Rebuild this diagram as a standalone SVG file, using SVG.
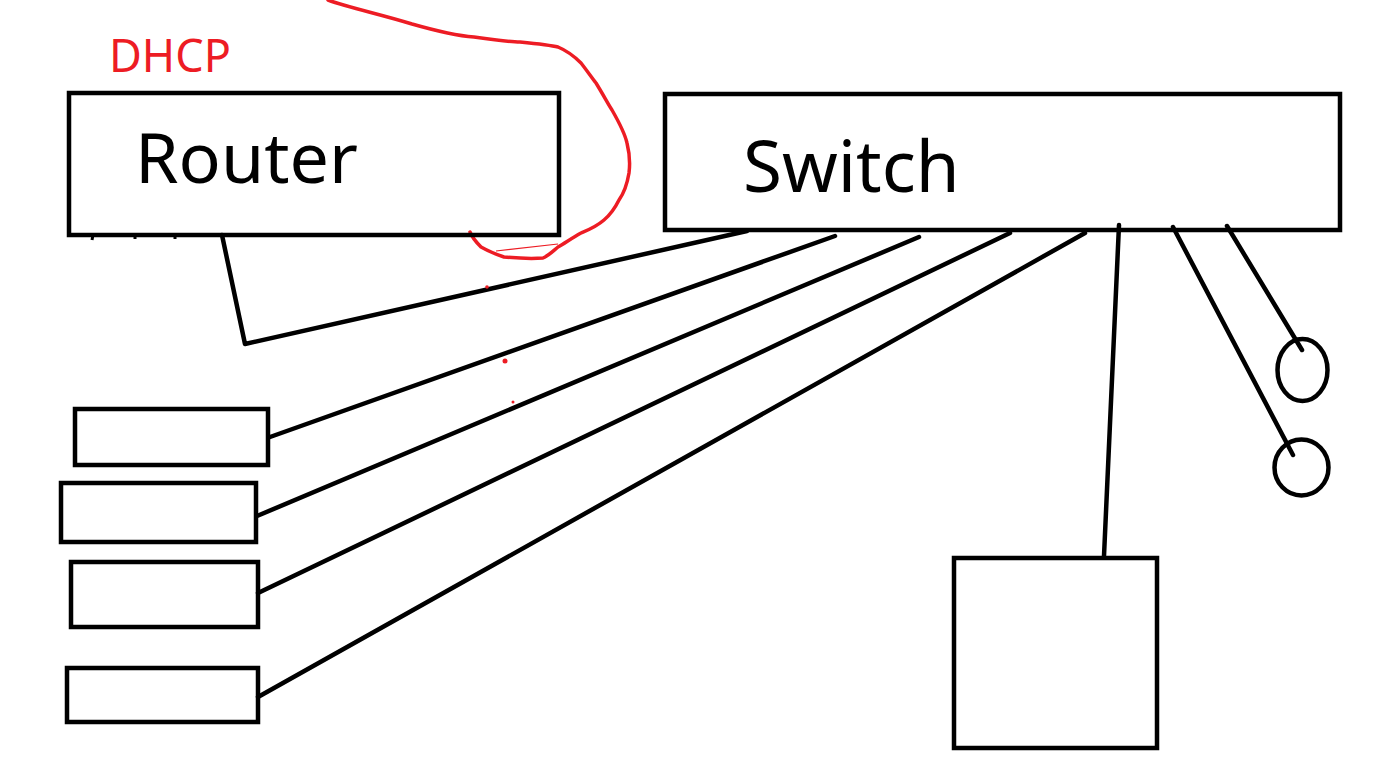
<svg xmlns="http://www.w3.org/2000/svg" width="1381" height="771" viewBox="0 0 1381 771">
<style>
.box{fill:none;stroke:#000;stroke-width:4.5}
.ln{fill:none;stroke:#000;stroke-width:4.5;stroke-linecap:round;stroke-linejoin:round}
.red{fill:none;stroke:#ed1c24;stroke-width:3.5;stroke-linecap:round;stroke-linejoin:round}
.lbl{font-family:"Noto Sans","Open Sans",sans-serif;fill:#000}
</style>
<rect width="1381" height="771" fill="#fff"/>
<g id="connectors">
<polyline class="ln" points="747,231 245,344 222,235"/>
<line class="ln" x1="835" y1="236" x2="270" y2="437"/>
<line class="ln" x1="919" y1="237" x2="257" y2="516"/>
<line class="ln" x1="1010" y1="233" x2="258" y2="593"/>
<line class="ln" x1="1085" y1="233" x2="258" y2="697"/>
<line class="ln" x1="1119" y1="225" x2="1104" y2="556"/>
<line class="ln" x1="1173" y1="227" x2="1293" y2="455"/>
<line class="ln" x1="1227" y1="226" x2="1302" y2="350"/>
</g>
<g id="dhcp">
<text x="109" y="72" font-family="Noto Sans,Open Sans,sans-serif" font-size="45" fill="#ed1c24">DHCP</text>
<path class="red" d="M328,0 C350,8 380,14 412,24 C440,32 460,36 474,37 C495,40 510,42 520,42 C540,44 550,45 558,47 C570,52 576,58 581,63 C588,72 592,78 596,83 C604,96 608,104 612,110 C620,124 625,134 627,143 C630,155 630,165 629,173 C627,185 624,193 619,200 C614,210 610,215 604,220 C596,227 588,230 581,233 C572,238 565,243 558,247 C552,252 548,256 543,258 C530,259 515,258 504,257 C495,254 488,251 481,247 C476,242 472,237 470,232"/>
<path d="M496,251 L558,244" fill="none" stroke="#ed1c24" stroke-width="1.2"/>
<circle cx="487" cy="287" r="1.8" fill="#ed1c24"/>
<circle cx="505" cy="361" r="2.5" fill="#ed1c24"/>
<circle cx="513" cy="402" r="1.5" fill="#ed1c24"/>
</g>
<g id="router">
<rect class="box" x="69" y="93" width="490" height="142"/>
<text class="lbl" x="135" y="183" font-size="70">Router</text>
<path d="M93,235 L92,240 M135,236 L135,239 M175,236 L175,239" stroke="#000" stroke-width="3"/>
</g>
<g id="switch">
<rect class="box" x="665" y="94" width="675" height="136"/>
<text class="lbl" x="743" y="192" font-size="71">Switch</text>
</g>
<g id="host1"><rect class="box" x="75" y="409" width="193" height="56"/></g>
<g id="host2"><rect class="box" x="61" y="483" width="195" height="59"/></g>
<g id="host3"><rect class="box" x="71" y="562" width="187" height="65"/></g>
<g id="host4"><rect class="box" x="67" y="668" width="191" height="54"/></g>
<g id="server"><rect class="box" x="954" y="558" width="203" height="190"/></g>
<g id="device1"><ellipse class="box" cx="1302.5" cy="370" rx="25" ry="31"/></g>
<g id="device2"><ellipse class="box" cx="1301.5" cy="467.5" rx="27" ry="28"/></g>
</svg>
